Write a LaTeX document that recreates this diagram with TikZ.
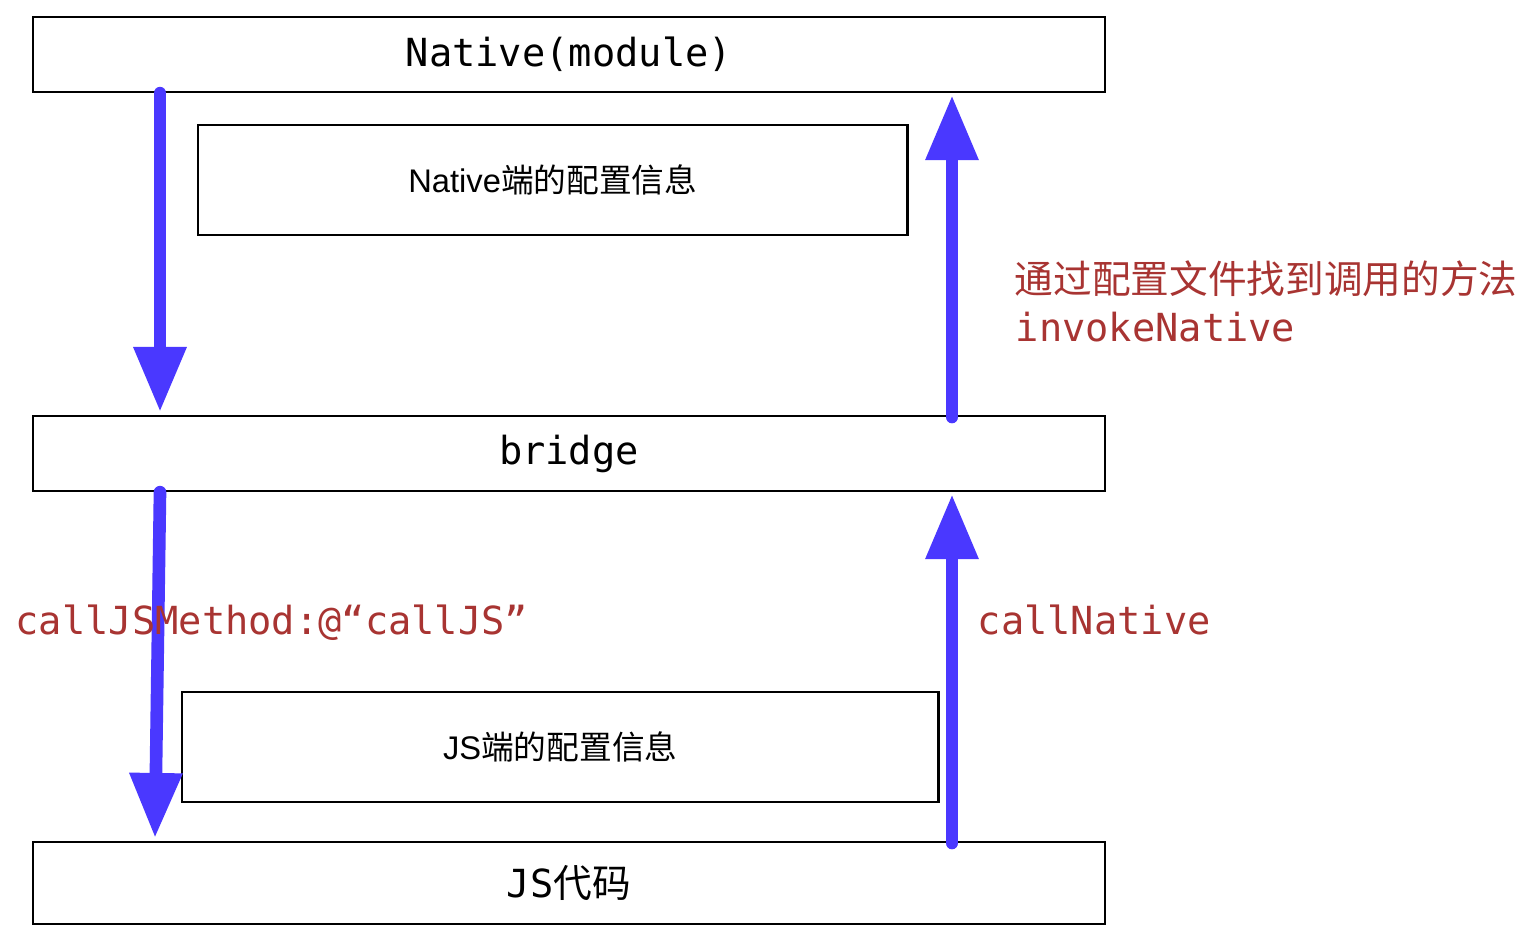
\documentclass[tikz,border=0pt]{standalone}
\usepackage{fontspec}
\setmainfont{Liberation Sans}
\setsansfont{Liberation Sans}
\setmonofont{DejaVu Sans Mono}
\newfontfamily\cjk{Noto Sans CJK SC}
\usetikzlibrary{calc}
\usetikzlibrary{arrows.meta}
\definecolor{callblue}{RGB}{74,56,255}
\definecolor{callred}{RGB}{168,52,50}

\begin{document}
\begin{tikzpicture}[x=0.01cm, y=-0.01cm,
  layer/.style={draw=black, line width=0.6pt, fill=white, inner sep=0pt, anchor=north west, font=\ttfamily\fontsize{11}{13}\selectfont},
  conf/.style={layer, font=\sffamily\fontsize{9.3}{11}\selectfont},
  flow/.style={callblue, line width=3.6pt, line cap=round, -{Triangle[width=0.5cm, length=0.65cm]}},
  lbl/.style={callred, anchor=base west, inner sep=0pt, font=\ttfamily\fontsize{11}{13}\selectfont}]
\useasboundingbox (0,0) rectangle (1536,930);

\node[layer, minimum width=10.71cm, minimum height=0.75cm] (native) at (32,16) {Native(module)};
\node[conf, minimum width=7.09cm, minimum height=1.10cm] (nconf) at (197,124) {Native{\cjk 端的配置信息}};
\node[layer, minimum width=10.71cm, minimum height=0.75cm] (bridge) at (32,415) {\raisebox{-1pt}{bridge}};
\node[conf, minimum width=7.56cm, minimum height=1.10cm] (jsconf) at (181,691) {JS{\cjk 端的配置信息}};
\node[layer, minimum width=10.71cm, minimum height=0.82cm] (jscode) at (32,841) {JS{\cjk 代码}};

\draw[flow] ($(native.south west)+(128,0)$) -- ($(bridge.north west)+(128,-3)$);
\draw[flow] ($(bridge.north west)+(920,2)$) -- ($(native.south west)+(920,2)$);
\draw[flow] ($(bridge.south west)+(128,0)$) -- ($(jscode.north west)+(123,-3)$);
\draw[flow] ($(jscode.north west)+(920,2)$) -- ($(bridge.south west)+(920,2)$);

\node[lbl] (findlbl) at (1014,293) {\cjk 通过配置文件找到调用的方法};
\node[lbl] (invokelbl) at (1015,341) {invokeNative};
\node[lbl] (calljslbl) at (15,634) {callJSMethod:@“callJS”};
\node[lbl] (callnativelbl) at (977,634) {callNative};

\end{tikzpicture}
\end{document}
